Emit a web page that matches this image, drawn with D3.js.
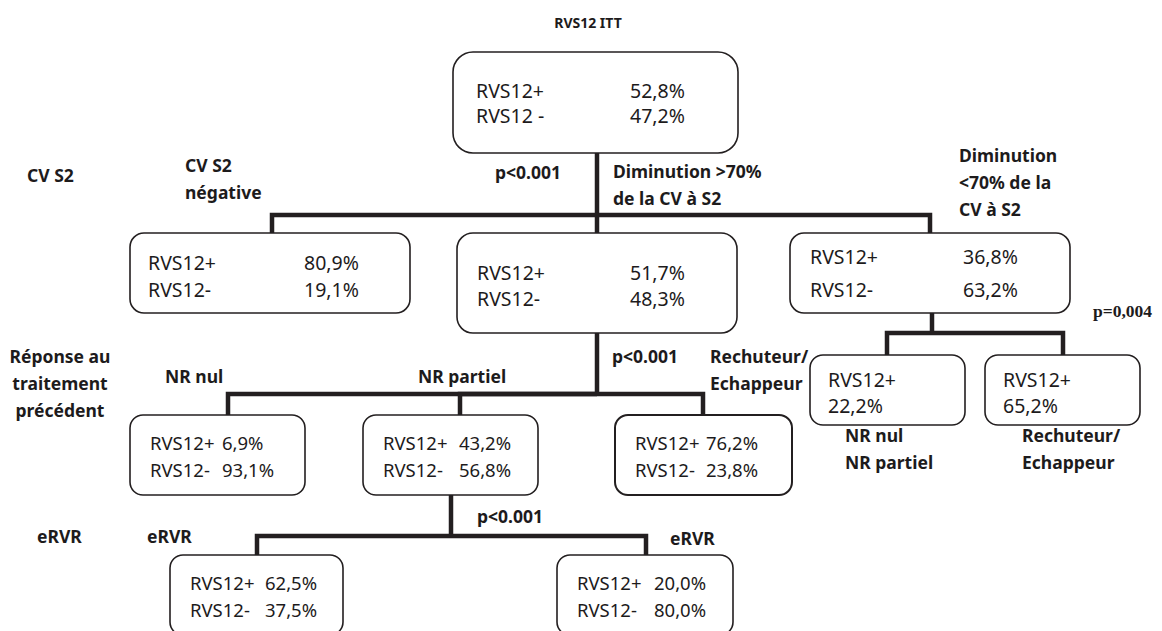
<!DOCTYPE html>
<html>
<head>
<meta charset="utf-8">
<script src="https://cdn.jsdelivr.net/npm/d3@7"></script>
<style>
  body { margin: 0; background: #fff; }
  svg text { fill: #1d1b1c; }
</style>
</head>
<body>
<svg id="chart"></svg>
<script>
// ---- data ----
const title = "RVS12 ITT";
const nodeIds = ["itt", "cvNeg", "dimSup70", "dimInf70", "nrNul", "nrPartiel", "rechuteur",
  "eRVR1", "eRVR2", "nrNulPartiel70", "rechuteur70"];
const parentOf = [-1, 0, 0, 0, 2, 2, 2, 5, 5, 3, 3];
const rvsPlus = ["52,8%", "80,9%", "51,7%", "36,8%", "6,9%", "43,2%", "76,2%", "62,5%", "20,0%", "22,2%", "65,2%"];
const rvsMinus = ["47,2%", "19,1%", "48,3%", "63,2%", "93,1%", "56,8%", "23,8%", "37,5%", "80,0%", null, null];
const plusNames = ["RVS12+", "RVS12+", "RVS12+", "RVS12+", "RVS12+", "RVS12+", "RVS12+", "RVS12+", "RVS12+", "RVS12+", "RVS12+"];
const minusNames = ["RVS12 -", "RVS12-", "RVS12-", "RVS12-", "RVS12-", "RVS12-", "RVS12-", "RVS12-", "RVS12-", null, null];
const branchLabels = ["", "CV S2|négative", "Diminution >70%|de la CV à S2", "Diminution|<70% de la|CV à S2",
  "NR nul", "NR partiel", "Rechuteur/|Echappeur", "eRVR", "eRVR", "NR nul|NR partiel", "Rechuteur/|Echappeur"];
const levelLabels = ["CV S2", "Réponse au|traitement|précédent", "eRVR"];
const pParents = [0, 2, 5, 3];
const pValues = ["p<0.001", "p<0.001", "p<0.001", "p=0,004"];

// ---- layout ----
const width = 1162, height = 631;
// box: x, y, w, h, radius, stroke width
const boxGeom = [
  [453, 52, 285, 101, 20, 1.6],
  [130, 233, 280, 80, 14, 1.6],
  [457, 233, 280, 100, 16, 1.6],
  [790, 233, 280, 80, 14, 1.6],
  [130, 415, 175, 80, 13, 1.6],
  [363, 415, 175, 80, 13, 1.6],
  [615, 415, 177, 80, 13, 2],
  [170, 555, 173, 80, 13, 1.6],
  [557, 555, 176, 80, 13, 1.6],
  [810, 355, 155, 70, 13, 1.6],
  [985, 355, 155, 70, 13, 1.6]
];
// text inside box: label dx, value dx, baseline 1, baseline 2, font size
const boxText = [
  [23, 177, 46, 71, 19.5],
  [18, 174, 37, 64, 19.5],
  [20, 173, 47, 73, 19.5],
  [20, 173, 31, 64, 19.5],
  [20, 92, 35, 62, 18.5],
  [20, 96, 35, 62, 18.5],
  [20, 91, 35, 62, 18.5],
  [20, 95, 35, 62, 18.5],
  [20, 97, 35, 62, 18.5],
  [18, 18, 32, 58, 19.5],
  [18, 18, 32, 58, 19.5]
];
// where the connector enters the top of each box
const topX = [null, 272, 597, 930, 228, 460, 703, 257, 646, 887, 1063];
// parent: x of its lower stem, y of the horizontal bar
const stemX = {0: 597, 2: 597, 5: 451, 3: 932};
const barY = {0: 215, 2: 394, 5: 536, 3: 333};
// branch label anchor (x, first baseline)
const branchPos = [null, [185, 172], [613, 178], [959, 162], [165, 383], [418, 383], [710, 363],
  [147, 543], [670, 545], [845, 442], [1022, 442]];
const levelPos = [[27, 182, "start"], [60, 363, "middle"], [37, 543, "start"]];
const pPos = [[495, 179], [612, 363], [477, 523], [1093, 317]];

const sans = "'Noto Sans', 'Open Sans', sans-serif";
const lineH = 27;

const svg = d3.select("#chart").attr("width", width).attr("height", height);

// connectors
const links = svg.append("g")
  .attr("fill", "none")
  .attr("stroke", "#231f20")
  .attr("stroke-width", 4.5);

pParents.forEach(p => {
  const g = boxGeom[p];
  links.append("path")
    .attr("d", d3.line()([[stemX[p], g[1] + g[3]], [stemX[p], barY[p]]]));
  parentOf.forEach((par, i) => {
    if (par !== p) return;
    links.append("path")
      .attr("stroke-linejoin", "miter")
      .attr("d", d3.line()([[stemX[p], barY[p]], [topX[i], barY[p]], [topX[i], boxGeom[i][1]]]));
  });
});

// boxes
const nodes = svg.append("g").selectAll("g")
  .data(nodeIds.map((id, i) => ({id, i})))
  .join("g");

nodes.append("rect")
  .attr("x", d => boxGeom[d.i][0])
  .attr("y", d => boxGeom[d.i][1])
  .attr("width", d => boxGeom[d.i][2])
  .attr("height", d => boxGeom[d.i][3])
  .attr("rx", d => boxGeom[d.i][4])
  .attr("fill", "#fff")
  .attr("stroke", "#231f20")
  .attr("stroke-width", d => boxGeom[d.i][5]);

const boxFont = sel => sel.attr("font-family", sans).attr("font-size", d => boxText[d.i][4]);
const hasMinus = d => rvsMinus[d.i] !== null;

nodes.append("text").call(boxFont)
  .attr("x", d => boxGeom[d.i][0] + boxText[d.i][0])
  .attr("y", d => boxGeom[d.i][1] + boxText[d.i][2])
  .text(d => plusNames[d.i]);

nodes.append("text").call(boxFont)
  .attr("x", d => boxGeom[d.i][0] + (hasMinus(d) ? boxText[d.i][1] : boxText[d.i][0]))
  .attr("y", d => boxGeom[d.i][1] + (hasMinus(d) ? boxText[d.i][2] : boxText[d.i][3]))
  .text(d => rvsPlus[d.i]);

nodes.filter(hasMinus).append("text").call(boxFont)
  .attr("x", d => boxGeom[d.i][0] + boxText[d.i][0])
  .attr("y", d => boxGeom[d.i][1] + boxText[d.i][3])
  .text(d => minusNames[d.i]);

nodes.filter(hasMinus).append("text").call(boxFont)
  .attr("x", d => boxGeom[d.i][0] + boxText[d.i][1])
  .attr("y", d => boxGeom[d.i][1] + boxText[d.i][3])
  .text(d => rvsMinus[d.i]);

// multi-line bold labels
function label(text, x, y, anchor, size, family) {
  const t = svg.append("text")
    .attr("x", x).attr("y", y)
    .attr("text-anchor", anchor || "start")
    .attr("font-family", family || sans)
    .attr("font-weight", "bold")
    .attr("font-size", size || 17.5);
  text.split("|").forEach((line, k) => {
    t.append("tspan").attr("x", x).attr("y", y + k * lineH).text(line);
  });
}

label(title, 588, 28, "middle", 14);
branchLabels.forEach((b, i) => { if (b) label(b, branchPos[i][0], branchPos[i][1]); });
levelLabels.forEach((l, i) => label(l, levelPos[i][0], levelPos[i][1], levelPos[i][2]));
pValues.forEach((p, i) => {
  if (p.startsWith("p="))
    label(p, pPos[i][0], pPos[i][1], "start", 17.5, "'Liberation Serif', serif");
  else
    label(p, pPos[i][0], pPos[i][1]);
});
</script>
</body>
</html>
